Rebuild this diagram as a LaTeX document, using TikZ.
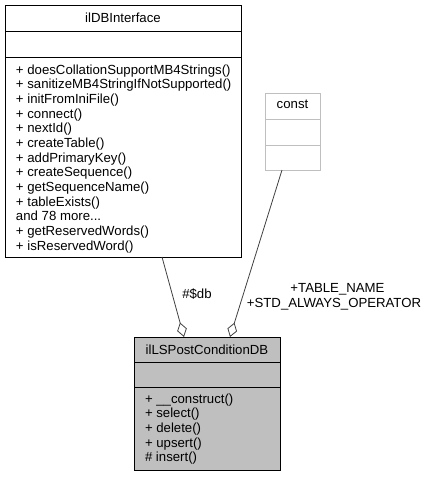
\documentclass[tikz,border=0pt]{standalone}
\usepackage{fontspec}
\setmainfont{Liberation Sans}
\usetikzlibrary{arrows.meta}
\begin{document}
\begin{tikzpicture}[x=1pt,y=-1pt,
  box/.style={draw=black, line width=0.9pt, inner sep=0pt, outer sep=0pt},
  sep/.style={draw=black, line width=0.9pt},
  txt/.style={inner sep=0pt, outer sep=0pt, font=\fontsize{13.2pt}{14.7pt}\selectfont},
  edge/.style={draw=black!75, line width=0.8pt, -{Diamond[open, length=15pt, width=10pt, line width=0.8pt]}}]
\useasboundingbox (0,0) rectangle (431,477);
% ilDBInterface
\node[box, fill=white, minimum width=236pt, minimum height=252pt] (dbi) at (123,131) {};
\draw[sep] ([yshift=-26pt]dbi.north west) -- ([yshift=-26pt]dbi.north east);
\draw[sep] ([yshift=-52pt]dbi.north west) -- ([yshift=-52pt]dbi.north east);
\node[txt, anchor=base] (dbit) at (123,22) {ilDBInterface};
\foreach \t [count=\i] in {{+ doesCollationSupportMB4Strings()}, {+ sanitizeMB4StringIfNotSupported()}, {+ initFromIniFile()}, {+ connect()}, {+ nextId()}, {+ createTable()}, {+ addPrimaryKey()}, {+ createSequence()}, {+ getSequenceName()}, {+ tableExists()}, {and 78 more{.}..}, {+ getReservedWords()}, {+ isReservedWord()}}
  \node[txt, anchor=base west] (dm\i) at (16, {74+14.67*(\i-1)}) {\t};
% const
\node[box, draw=black!25, fill=white, minimum width=55pt, minimum height=77pt] (cst) at (292.5,131.5) {};
\draw[sep, draw=black!25] ([yshift=-26pt]cst.north west) -- ([yshift=-26pt]cst.north east);
\draw[sep, draw=black!25] ([yshift=-52pt]cst.north west) -- ([yshift=-52pt]cst.north east);
\node[txt, anchor=base] (cstt) at (292.5,108) {const};
% ilLSPostConditionDB
\node[box, fill=black!25, minimum width=146pt, minimum height=133pt] (post) at (207,403.5) {};
\draw[sep] ([yshift=-25.5pt]post.north west) -- ([yshift=-25.5pt]post.north east);
\draw[sep] ([yshift=-50.5pt]post.north west) -- ([yshift=-50.5pt]post.north east);
\node[txt, anchor=base] (postt) at (207,354) {ilLSPostConditionDB};
\foreach \t [count=\i] in {{+ \_\_construct()}, {+ select()}, {+ delete()}, {+ upsert()}, {\# insert()}}
  \node[txt, anchor=base west] (pm\i) at (145, {403.3+14.6*(\i-1)}) {\t};
% edges
\draw[edge] ([xshift=157pt]dbi.south west) -- ([xshift=50pt]post.north west);
\draw[edge] ([xshift=17pt]cst.south west) -- ([xshift=96pt]post.north west);
\node[txt, anchor=base] (l1) at (197,298) {\#\$db};
\node[txt, anchor=base] (l2) at (337.5,292.7) {+TABLE\_NAME};
\node[txt, anchor=base] (l3) at (334,307.7) {+STD\_ALWAYS\_OPERATOR};
\end{tikzpicture}
\end{document}
